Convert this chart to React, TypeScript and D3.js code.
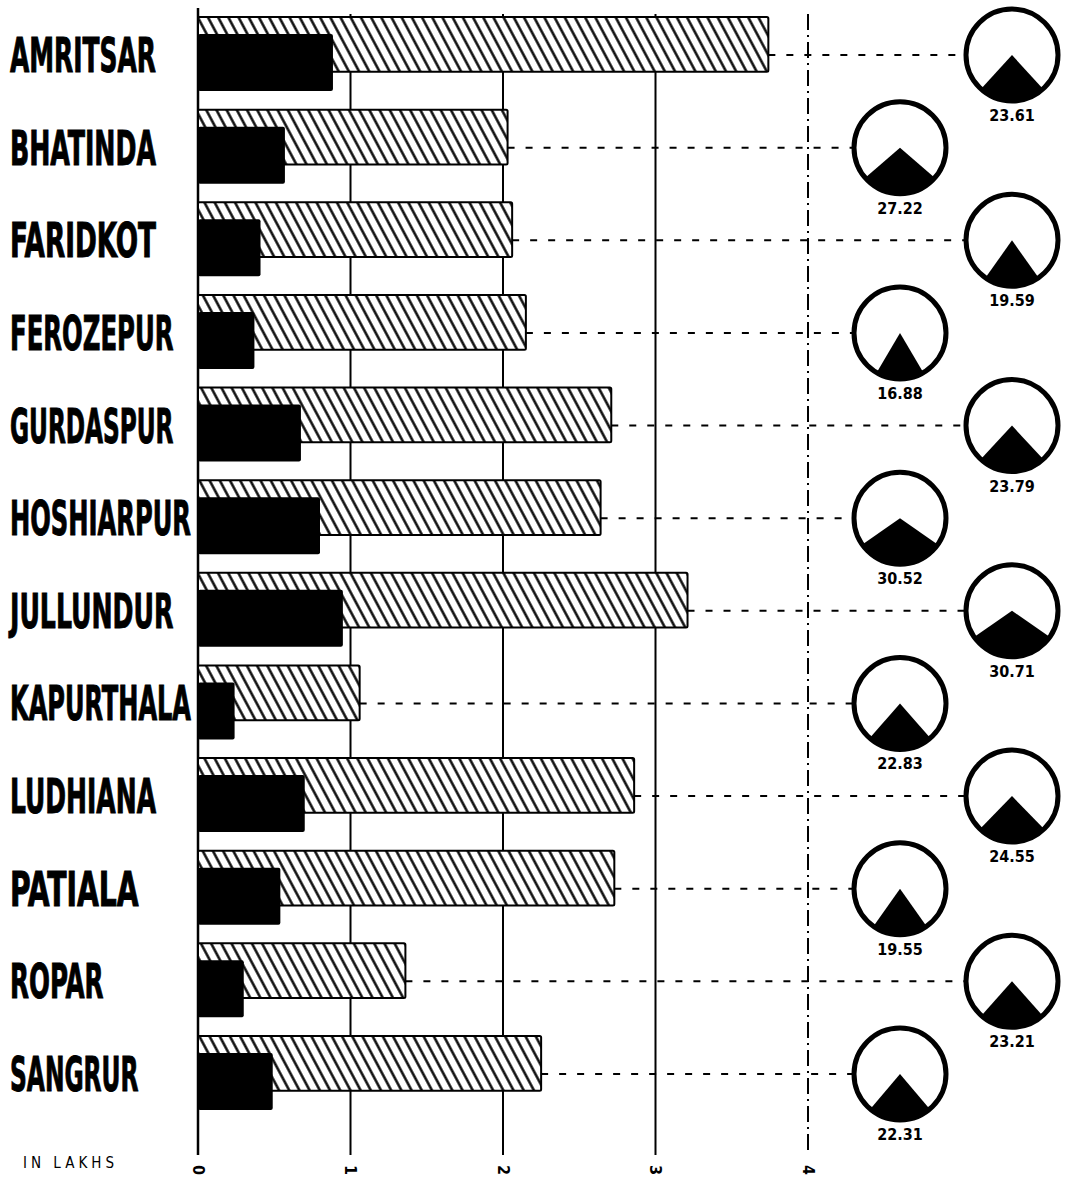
import * as d3 from "d3";

const districts = [
  "AMRITSAR",
  "BHATINDA",
  "FARIDKOT",
  "FEROZEPUR",
  "GURDASPUR",
  "HOSHIARPUR",
  "JULLUNDUR",
  "KAPURTHALA",
  "LUDHIANA",
  "PATIALA",
  "ROPAR",
  "SANGRUR",
];
// total (hatched) and inner (black) bars, in lakhs
const totalValues = [3.74, 2.03, 2.06, 2.15, 2.71, 2.64, 3.21, 1.06, 2.86, 2.73, 1.36, 2.25];
const innerValues = [0.885, 0.57, 0.41, 0.37, 0.675, 0.8, 0.95, 0.24, 0.7, 0.54, 0.3, 0.49];
// percentage shown in the circles
const percents = [23.61, 27.22, 19.59, 16.88, 23.79, 30.52, 30.71, 22.83, 24.55, 19.55, 23.21, 22.31];
const tickValues = [0, 1, 2, 3, 4];

const W = 1070;
const H = 1182;
const FONT = "'Liberation Sans Narrow', 'DejaVu Sans Condensed', 'Liberation Sans', sans-serif";

const App = () => {
  const x = d3.scaleLinear().domain([0, 4]).range([198, 808]);
  const y = d3
    .scaleBand<string>()
    .domain(districts)
    .range([17, 1110])
    .paddingInner(0.2)
    .paddingOuter(0);
  const band = y.bandwidth();
  const hatchH = band * 0.74;
  const innerTop = band * 0.23;
  const circleX = d3.scaleOrdinal<number, number>().domain([0, 1]).range([1012, 900]);
  const R = 46;
  const arc = d3.arc<{ a: number }>()
    .innerRadius(0)
    .outerRadius(R)
    .startAngle((d) => Math.PI - d.a / 2)
    .endAngle((d) => Math.PI + d.a / 2);

  return (
    <svg
      width={W}
      height={H}
      style={{ position: "absolute", left: 0, top: 0, background: "#fff" }}
    >
      <defs>
        <pattern
          id="hatch"
          width={9}
          height={9}
          patternUnits="userSpaceOnUse"
          patternTransform="rotate(-28)"
        >
          <rect width={9} height={9} fill="#fff" />
          <line x1={4.5} y1={0} x2={4.5} y2={9} stroke="#000" strokeWidth={2.4} />
        </pattern>
      </defs>

      {/* grid lines */}
      {tickValues.map((t) => (
        <line
          key={"g" + t}
          x1={x(t)}
          x2={x(t)}
          y1={t === 0 ? 8 : 14}
          y2={1155}
          stroke="#000"
          strokeWidth={t === 0 ? 2.5 : 2}
          strokeDasharray={t === 4 ? "16,5,2,5" : undefined}
        />
      ))}

      {/* leader lines */}
      {districts.map((d, i) => (
        <line
          key={"l" + d}
          x1={x(totalValues[i])}
          x2={circleX(i % 2) - R - 2}
          y1={(y(d) ?? 0) + band / 2 + 1}
          y2={(y(d) ?? 0) + band / 2 + 1}
          stroke="#000"
          strokeWidth={2}
          strokeDasharray="7,11"
        />
      ))}

      {/* bars */}
      {districts.map((d, i) => {
        const top = y(d) ?? 0;
        return (
          <g key={"b" + d}>
            <rect
              x={x(0)}
              y={top}
              width={x(totalValues[i]) - x(0)}
              height={hatchH}
              fill="url(#hatch)"
              stroke="#000"
              strokeWidth={2}
              rx={1.5}
            />
            <rect
              x={x(0)}
              y={top + innerTop}
              width={x(innerValues[i]) - x(0)}
              height={band - innerTop}
              fill="#000"
              rx={2}
            />
          </g>
        );
      })}

      {/* district labels */}
      {districts.map((d) => (
        <text
          key={"t" + d}
          x={10}
          y={(y(d) ?? 0) + band / 2 + 18}
          fontFamily={FONT}
          fontWeight="bold"
          fontSize={48}
          textLength={17.5 * d.length + 6}
          lengthAdjust="spacingAndGlyphs"
          fill="#000"
          stroke="#000"
          strokeWidth={1}
        >
          {d}
        </text>
      ))}

      {/* circles */}
      {districts.map((d, i) => {
        const cx = circleX(i % 2);
        const cy = (y(d) ?? 0) + band / 2 + 1;
        return (
          <g key={"c" + d} transform={`translate(${cx},${cy})`}>
            <path d={arc({ a: (percents[i] / 100) * 2 * Math.PI }) ?? ""} fill="#000" />
            <circle r={R} fill="none" stroke="#000" strokeWidth={5} />
            <text
              y={66}
              textAnchor="middle"
              fontFamily={FONT}
              fontWeight="bold"
              fontSize={16}
              fill="#000"
            >
              {percents[i].toFixed(2)}
            </text>
          </g>
        );
      })}

      {/* axis tick labels */}
      {tickValues.map((t) => (
        <text
          key={"k" + t}
          transform={`translate(${x(t)},${1170}) rotate(90)`}
          textAnchor="middle"
          dominantBaseline="central"
          fontFamily={FONT}
          fontWeight="bold"
          fontSize={16}
          fill="#000"
        >
          {t}
        </text>
      ))}

      <text
        x={23}
        y={1168}
        fontFamily={FONT}
        fontSize={15}
        letterSpacing={4}
        fill="#000"
      >
        IN LAKHS
      </text>
    </svg>
  );
};

export default App;
